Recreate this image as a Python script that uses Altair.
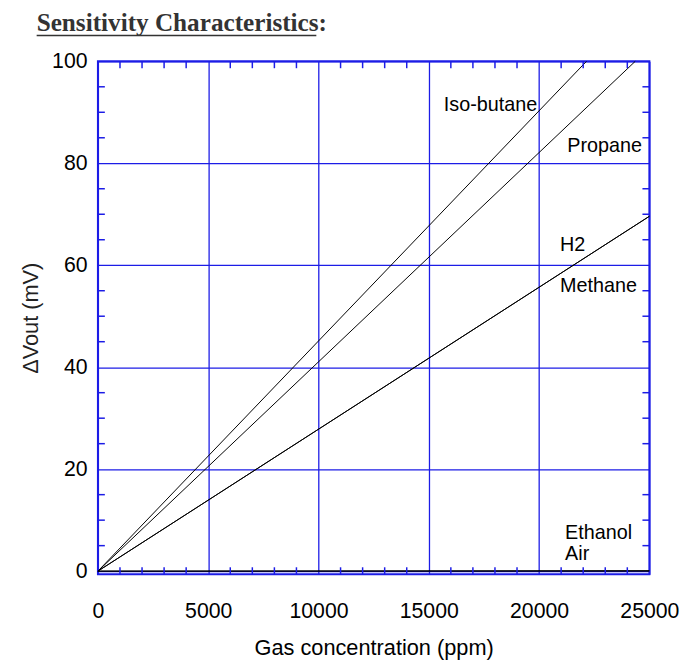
import altair as alt
import pandas as pd

# ---- data ----
series_names = ["Iso-butane", "Propane", "H2", "Methane", "Ethanol", "Air"]
series_x = [[0, 22150], [0, 24360], [0, 25000], [0, 25000], [0, 25000], [0, 25000]]
series_y = [[0, 100], [0, 100], [0, 69.6], [0, 69.6], [0, 0.1], [0, 0]]

label_text = ["Iso-butane", "Propane", "H2", "Methane", "Ethanol", "Air"]
label_x = [15680, 21280, 20950, 20950, 21180, 21180]
label_y = [91.4, 83.3, 64.0, 55.9, 7.5, 3.3]

x_ticks = [0, 5000, 10000, 15000, 20000, 25000]
y_ticks = [0, 20, 40, 60, 80, 100]
x_minor = [v for v in range(1000, 25000, 1000) if v % 5000 != 0]
y_minor = [v for v in range(5, 100, 5) if v % 20 != 0]

title_text = "Sensitivity Characteristics:"
x_title = "Gas concentration (ppm)"
y_title = "ΔVout (mV)"

BLUE = "#1c1ce6"
W, H = 558, 519
FONT = "Liberation Sans"

rows = []
for name, xs, ys in zip(series_names, series_x, series_y):
    for i, (a, b) in enumerate(zip(xs, ys)):
        rows.append({"series": name, "x": a, "y": b, "order": i})
df = pd.DataFrame(rows)

xscale = alt.Scale(domain=[0, 25000], nice=False, zero=False)
yscale = alt.Scale(domain=[-0.6, 100], nice=False, zero=False)

xaxis = alt.Axis(values=x_ticks, format="d", grid=True, gridColor=BLUE, gridWidth=1.3,
                 gridOpacity=1, ticks=False, domain=False, labelFontSize=21.5, labelFont=FONT,
                 labelColor="black", labelPadding=27, titleFont=FONT, titleFontSize=22,
                 titleFontWeight="normal", titleColor="black", titlePadding=16,
                 labelFlush=False)
yaxis = alt.Axis(values=y_ticks, format="d", grid=True, gridColor=BLUE, gridWidth=1.3,
                 gridOpacity=1, ticks=False, domain=False, labelFontSize=21.5, labelFont=FONT,
                 labelColor="black", labelPadding=11, titleFont=FONT, titleFontSize=22,
                 titleFontWeight="normal", titleColor="#222222", titlePadding=9,
                 labelFlush=False)


def X(field):
    return alt.X(field, scale=xscale, axis=xaxis, title=x_title)


def Y(field):
    return alt.Y(field, scale=yscale, axis=yaxis, title=y_title)


lines = alt.Chart(df).mark_line(color="black", strokeWidth=1).encode(
    x=X("x:Q"), y=Y("y:Q"), detail="series:N", order="order:Q",
)

xm = pd.DataFrame({"v": x_minor})
ym = pd.DataFrame({"v": y_minor})
tick_style = dict(color=BLUE, strokeWidth=1.5)

xb = alt.Chart(xm).mark_rule(**tick_style).encode(
    x=X("v:Q"), y=alt.value(H), y2=alt.value(H - 7))
xt = alt.Chart(xm).mark_rule(**tick_style).encode(
    x=X("v:Q"), y=alt.value(0), y2=alt.value(7))
yl = alt.Chart(ym).mark_rule(**tick_style).encode(
    y=Y("v:Q"), x=alt.value(0), x2=alt.value(7))
yr = alt.Chart(ym).mark_rule(**tick_style).encode(
    y=Y("v:Q"), x=alt.value(W), x2=alt.value(W - 7))

ldf = pd.DataFrame({"t": label_text, "x": label_x, "y": label_y})
labels = alt.Chart(ldf).mark_text(align="left", baseline="middle", font=FONT,
                                  fontSize=20, color="black").encode(
    x=X("x:Q"), y=Y("y:Q"), text="t:N",
)

tdf = pd.DataFrame({"t": [title_text]})
title = alt.Chart(tdf).mark_text(align="left", baseline="alphabetic", font="Liberation Serif",
                                 fontSize=25.5, fontWeight="bold", color="#333333").encode(
    x=alt.value(-62), y=alt.value(-31), text="t:N")
underline = alt.Chart(tdf).mark_rule(color="#333333", strokeWidth=1.5).encode(
    x=alt.value(-62), x2=alt.value(221), y=alt.value(-26))

chart = alt.layer(lines, xb, xt, yl, yr, labels, title, underline).properties(
    width=W, height=H,
    padding={"left": 91, "top": 50, "right": 31, "bottom": 92},
    autosize=alt.AutoSizeParams(type="none"),
).configure_view(stroke=BLUE, strokeWidth=2)

chart.save("out.html", embed_options={"renderer": "svg", "actions": False})
